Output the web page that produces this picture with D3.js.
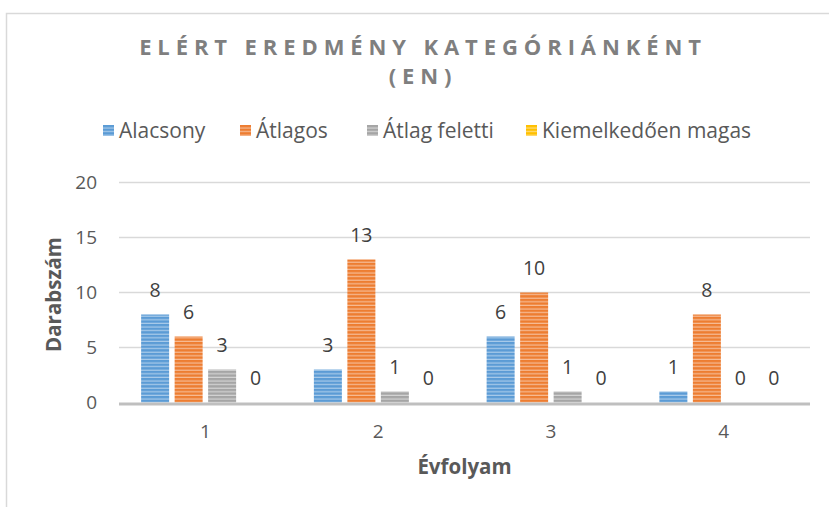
<!DOCTYPE html>
<html>
<head>
<meta charset="utf-8">
<script src="https://cdn.jsdelivr.net/npm/d3@7/dist/d3.min.js"></script>
<style>
  html, body { margin: 0; padding: 0; background: #fff; }
  svg { display: block; }
  text { font-family: "Open Sans", "Noto Sans", sans-serif; }
</style>
</head>
<body>
<svg id="chart" width="829" height="507"></svg>
<script>
// Chart data
const categories = ["1", "2", "3", "4"];
const seriesNames = ["Alacsony", "Átlagos", "Átlag feletti", "Kiemelkedően magas"];
const alacsony = [8, 3, 6, 1];
const atlagos = [6, 13, 10, 8];
const atlagFeletti = [3, 1, 1, 0];
const kiemelkedoen = [0, 0, 0, 0];
const yTicks = [0, 5, 10, 15, 20];
const titleLines = ["ELÉRT EREDMÉNY KATEGÓRIÁNKÉNT", "(EN)"];
const yTitle = "Darabszám";
const xTitle = "Évfolyam";

const seriesValues = [alacsony, atlagos, atlagFeletti, kiemelkedoen];
const colors = ["#5B9BD5", "#ED7D31", "#A5A5A5", "#FFC000"];
const stripeColors = ["#A9CBEA", "#F6BC96", "#D4D4D4", "#FFDE80"];

const svg = d3.select("#chart");
const W = 829, H = 507;
const FONT = "'Open Sans', 'Noto Sans', sans-serif";

// striped fills, one per series
const defs = svg.append("defs");
colors.forEach((c, i) => {
  const p = defs.append("pattern")
    .attr("id", "stripe" + i)
    .attr("patternUnits", "userSpaceOnUse")
    .attr("width", 8).attr("height", 3.6);
  p.append("rect").attr("width", 8).attr("height", 3.6).attr("fill", c);
  p.append("rect").attr("y", 2.4).attr("width", 8).attr("height", 1.2).attr("fill", stripeColors[i]);
});

// outer frame
svg.append("rect")
  .attr("x", 6.5).attr("y", 13.5)
  .attr("width", W + 20).attr("height", H + 20)
  .attr("fill", "#fff").attr("stroke", "#D9D9D9").attr("stroke-width", 1.5);

const plot = { left: 119, right: 810, top: 182.5, bottom: 402.5 };

const x = d3.scaleBand().domain(categories).range([plot.left, plot.right]);
const y = d3.scaleLinear().domain([0, 20]).range([plot.bottom, plot.top]);

const barW = 28, barStep = 33.5;
const groupW = barW + barStep * (seriesNames.length - 1);

// title
const title = svg.append("text")
  .attr("text-anchor", "middle")
  .attr("fill", "#7F7F7F")
  .attr("font-size", 22)
  .attr("font-weight", "bold")
  .attr("letter-spacing", 5.9);
titleLines.forEach((t, i) => {
  title.append("tspan").attr("x", 423).attr("y", 55 + i * 29).text(t);
});

// legend
const legendX = [103, 240, 367, 526];
const legend = svg.append("g");
seriesNames.forEach((name, i) => {
  const g = legend.append("g").attr("transform", `translate(${legendX[i]},125)`);
  g.append("rect").attr("width", 11).attr("height", 11).attr("fill", `url(#stripe${i})`);
  g.append("text").attr("x", 16).attr("y", 12.5)
    .attr("font-size", 21).attr("fill", "#595959").text(name);
});

// gridlines
svg.append("g")
  .selectAll("line")
  .data(yTicks.filter(d => d > 0))
  .join("line")
  .attr("x1", plot.left).attr("x2", plot.right)
  .attr("y1", d => y(d)).attr("y2", d => y(d))
  .attr("stroke", "#D9D9D9").attr("stroke-width", 1.5);

// y axis labels
const yAxis = svg.append("g")
  .attr("transform", `translate(${plot.left},0)`)
  .call(d3.axisLeft(y).tickValues(yTicks).tickSize(0).tickPadding(22));
yAxis.select(".domain").remove();
yAxis.selectAll("text")
  .attr("font-family", FONT)
  .attr("font-size", 19).attr("fill", "#595959");

seriesValues.forEach((vals, s) => {
  const bx = (c) => x(c) + x.bandwidth() / 2 - groupW / 2 + s * barStep;
  const rows = categories.map((c, i) => ({ c, v: vals[i] }));
  // bars
  svg.append("g").selectAll("rect")
    .data(rows)
    .join("rect")
    .attr("x", d => bx(d.c))
    .attr("y", d => y(d.v))
    .attr("width", barW)
    .attr("height", d => y(0) - y(d.v))
    .attr("fill", `url(#stripe${s})`);
  // value labels
  svg.append("g").selectAll("text")
    .data(rows)
    .join("text")
    .attr("x", d => bx(d.c) + barW / 2)
    .attr("y", d => y(d.v) - 18)
    .attr("text-anchor", "middle")
    .attr("font-size", 19.5).attr("fill", "#404040")
    .text(d => d.v);
});

// x axis baseline and labels
svg.append("line")
  .attr("x1", plot.left).attr("x2", plot.right)
  .attr("y1", y(0) + 1.5).attr("y2", y(0) + 1.5)
  .attr("stroke", "#BFBFBF").attr("stroke-width", 3);

const xAxis = svg.append("g")
  .attr("transform", `translate(0,${plot.bottom})`)
  .call(d3.axisBottom(x).tickSize(0).tickPadding(22));
xAxis.select(".domain").remove();
xAxis.selectAll("text")
  .attr("font-family", FONT)
  .attr("font-size", 19).attr("fill", "#595959");

// axis titles
svg.append("text")
  .attr("transform", `translate(61,${(plot.top + plot.bottom) / 2 + 2}) rotate(-90)`)
  .attr("text-anchor", "middle")
  .attr("font-size", 20.5).attr("font-weight", "bold").attr("fill", "#595959")
  .text(yTitle);

svg.append("text")
  .attr("x", (plot.left + plot.right) / 2).attr("y", 474)
  .attr("text-anchor", "middle")
  .attr("font-size", 20.5).attr("font-weight", "bold").attr("fill", "#595959")
  .text(xTitle);
</script>
</body>
</html>
